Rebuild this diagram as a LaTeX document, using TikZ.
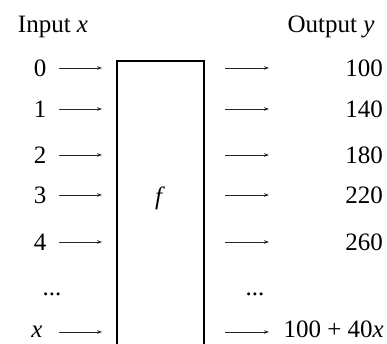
\documentclass[tikz,border=0pt]{standalone}
\usepackage{fontspec}
\setmainfont{Liberation Serif}
\usetikzlibrary{positioning, arrows.meta}

\begin{document}
\begin{tikzpicture}[
  x=1pt, y=-1pt,
  font=\fontsize{25}{29}\selectfont,
  lbl/.style={inner sep=0pt, text height=16.5pt, text depth=0pt},
  arr/.style={-{Stealth[length=5pt,width=3.5pt]}, line width=0.7pt, black!85},
]
\useasboundingbox (0,0) rectangle (387,344);

% Titres
\node[lbl] (inhead) at (53,24) {Input \textit{x}};
\node[lbl] (outhead) at (331,24) {Output \textit{y}};

% Boite f (ouverte en bas)
\coordinate (bl) at (117,352);
\coordinate (tl) at (117,61);
\coordinate (tr) at (204,61);
\coordinate (br) at (204,352);
\draw[line width=1.5pt] (bl) -- (tl) -- (tr) -- (br);
\node[lbl] (f) at (160,196) {\textit{f}};

% Lignes entree / sortie
\foreach \i/\y/\a/\b in {0/68/0/100, 1/109/1/140, 2/155/2/180, 3/195/3/220, 4/242/4/260} {
  \node[lbl] (in\i) at (40,\y) {\a};
  \node[lbl, anchor=east] (out\i) at (383,\y) {\b};
  \coordinate (ia\i) at (59,\y);
  \coordinate (ib\i) at (102,\y);
  \coordinate (oa\i) at (225,\y);
  \coordinate (ob\i) at (269,\y);
  \draw[arr] (ia\i) -- (ib\i);
  \draw[arr] (oa\i) -- (ob\i);
}

% Points
\node[lbl] (indots) at (52,287) {...};
\node[lbl] (outdots) at (255,287) {...};

% Ligne generale
\node[lbl, text height=10pt] (inx) at (37,332) {\textit{x}};
\node[lbl, text height=10pt, anchor=east] (outx) at (384,332) {100 + 40\textit{x}};
\coordinate (iax) at (59,332);
\coordinate (ibx) at (102,332);
\coordinate (oax) at (225,332);
\coordinate (obx) at (269,332);
\draw[arr] (iax) -- (ibx);
\draw[arr] (oax) -- (obx);

\end{tikzpicture}
\end{document}
